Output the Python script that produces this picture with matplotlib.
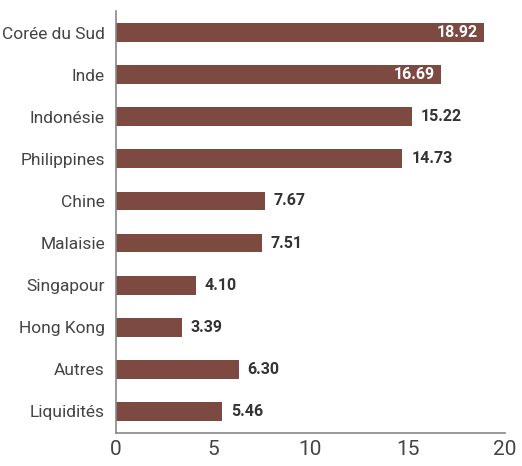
import matplotlib
matplotlib.use("Agg")
import matplotlib.pyplot as plt

categories = ["Corée du Sud", "Inde", "Indonésie", "Philippines", "Chine",
              "Malaisie", "Singapour", "Hong Kong", "Autres", "Liquidités"]
values = [18.92, 16.69, 15.22, 14.73, 7.67, 7.51, 4.10, 3.39, 6.30, 5.46]
xticks = [0, 5, 10, 15, 20]

plt.rcParams['font.family'] = ['Roboto', 'DejaVu Sans']

bar_color = "#7d4a42"
fig = plt.figure(figsize=(5.22, 4.66), dpi=100)
ax = fig.add_axes([0.2222, 0.0708, 0.7452, 0.9056])
y = list(range(len(categories)))
ax.barh(y, values, height=0.45, color=bar_color)
ax.set_ylim(len(categories) - 0.48, -0.52)
ax.set_xlim(0, 20)
ax.set_xticks(xticks)
ax.set_xticklabels([str(t) for t in xticks], fontsize=15, color="#444444")
ax.set_yticks(y)
ax.set_yticklabels(categories, fontsize=12.5, color="#444444")
ax.tick_params(axis='y', length=0, pad=8)
ax.tick_params(axis='x', length=0, pad=5)
for s in ["top", "right"]:
    ax.spines[s].set_visible(False)
for s in ["left", "bottom"]:
    ax.spines[s].set_color("#888888")
    ax.spines[s].set_linewidth(1.2)

for i, v in enumerate(values):
    if v > 16:
        ax.text(v - 0.3, i, f"{v:.2f}", ha="right", va="center", color="white",
                fontsize=11.5, fontweight="bold")
    else:
        ax.text(v + 0.45, i, f"{v:.2f}", ha="left", va="center", color="#333333",
                fontsize=11.5, fontweight="bold")

fig.savefig("out.png", dpi=100)
